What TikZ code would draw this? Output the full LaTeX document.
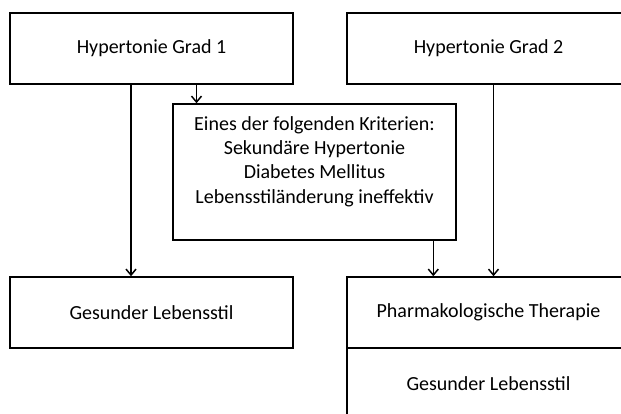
\documentclass[tikz,border=0pt]{standalone}
\usepackage{fontspec}
\setmainfont{Carlito}
\usetikzlibrary{arrows.meta, positioning}

\begin{document}
\begin{tikzpicture}[
        x=1pt, y=-1pt,
        box/.style={
          rectangle,
          minimum width=283pt,
          minimum height=71pt,
          draw,
          line width=1.5pt,
          align=center,
          font=\fontsize{20}{24.4}\selectfont
        },
        arrow/.style={
          -{Straight Barb[length=6pt,width=10pt]},
          line width=1.5pt
        }
      ]

      \useasboundingbox (0,0) rectangle (621,414);
      \clip (0,0) rectangle (621,414);

      % Entities
      \node[box] (hypOne) at (151.5,48.5) {Hypertonie Grad 1};
      \node[box] (hypTwo) at (488.5,48.5) {Hypertonie Grad 2};
      \node[box, minimum height=136pt] (crit) at (314.5,172) {};
      \node[align=center, font=\fontsize{20}{24.4}\selectfont] (critText) at ([yshift=10.5pt]crit.center) {Eines der folgenden Kriterien:\\Sekundäre Hypertonie\\Diabetes Mellitus\\Lebensstiländerung ineffektiv};
      \node[box] (lifeLeft) at (151.5,312.5) {Gesunder Lebensstil};
      \node[box] (pharma) at (488.5,312.5) {Pharmakologische Therapie};
      \node[box] (lifeRight) at (488.5,383.5) {Gesunder Lebensstil};

      % Connectors
      \draw[arrow] ([xshift=-20.5pt]hypOne.south) -- ([xshift=-20.5pt]lifeLeft.north);
      \draw[arrow] ([xshift=45pt]hypOne.south) -- ([xshift=45pt]hypOne.south |- crit.north);
      \draw[arrow] ([xshift=118.8pt]crit.south) -- ([xshift=118.8pt]crit.south |- pharma.north);
      \draw[arrow] ([xshift=5pt]hypTwo.south) -- ([xshift=5pt]pharma.north);

    \end{tikzpicture}
\end{document}
